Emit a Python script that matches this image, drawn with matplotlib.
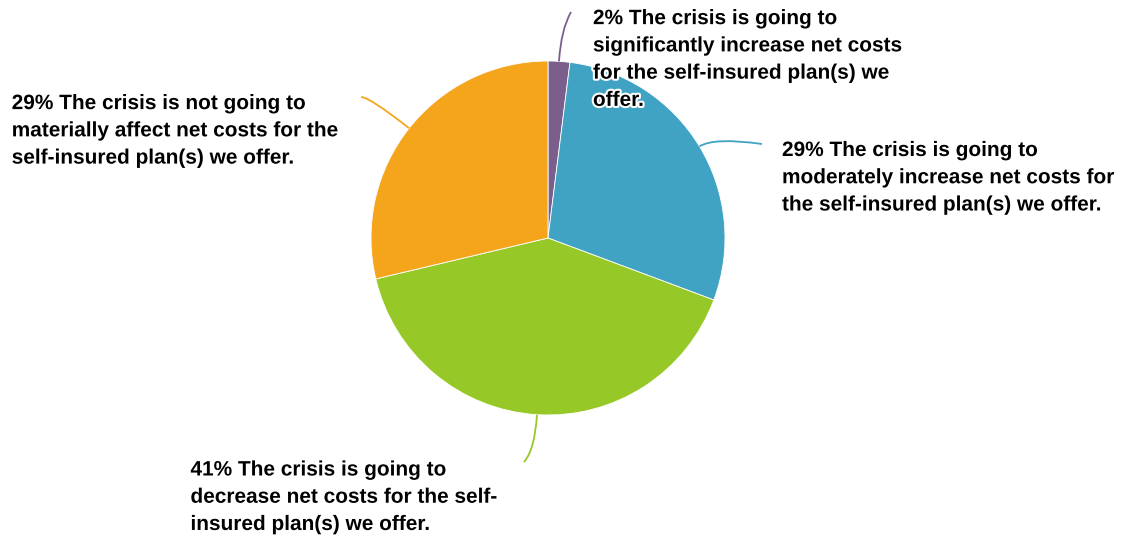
import numpy as np
import matplotlib.pyplot as plt
import matplotlib.patheffects as pe
from matplotlib.path import Path
from matplotlib.patches import PathPatch

plt.rcParams['font.family'] = ['Liberation Sans', 'DejaVu Sans']

# 数据
labels = [
    'The crisis is going to\nsignificantly increase net costs\nfor the self-insured plan(s) we\noffer.',
    'The crisis is going to\nmoderately increase net costs for\nthe self-insured plan(s) we offer.',
    'The crisis is going to\ndecrease net costs for the self-\ninsured plan(s) we offer.',
    'The crisis is not going to\nmaterially affect net costs for the\nself-insured plan(s) we offer.',
]
values = [2, 29, 41, 29]
colors = ['#7a5f8c', '#41a3c3', '#96c927', '#f5a51c']

# 标签位置(以饼半径为单位) 和 引线参数
text_pos = [(0.254, 1.293), (1.322, 0.548), (-2.02, -1.257), (-3.03, 0.813)]
line_end = [(0.13, 1.277), (1.209, 0.531), (-0.136, -1.266), (-1.056, 0.797)]
ctrl_len = [0.18, 0.10, 0.20, 0.28]

W, H = 1126, 537
R = 177.0
cx, cy = 548, 238

fig = plt.figure(figsize=(W / 100, H / 100), dpi=100, facecolor='white')
ax = fig.add_axes([0, 0, 1, 1])
ax.axis('off')

wedges, _ = ax.pie(values, colors=colors, startangle=90, counterclock=False,
                   radius=1, wedgeprops=dict(edgecolor='white', linewidth=0.6))
ax.set_aspect('auto')
ax.set_xlim(-cx / R, (W - cx) / R)
ax.set_ylim(-(H - cy) / R, cy / R)

for w, v, lab, tp, le, k, c in zip(wedges, values, labels, text_pos, line_end, ctrl_len, colors):
    mid = np.deg2rad((w.theta1 + w.theta2) / 2)
    d = np.array([np.cos(mid), np.sin(mid)])
    p0 = d * 1.0
    p1 = d * (1.0 + k)
    path = Path([p0, p1, le], [Path.MOVETO, Path.CURVE3, Path.CURVE3])
    ax.add_patch(PathPatch(path, fill=False, edgecolor=c, linewidth=1.3))
    ax.text(tp[0], tp[1], f'{v}% {lab}', ha='left', va='top', fontsize=15,
            fontweight='bold', linespacing=1.55, color='black',
            path_effects=[pe.withStroke(linewidth=3, foreground='white')])

fig.savefig('out.png', dpi=100, facecolor='white')
